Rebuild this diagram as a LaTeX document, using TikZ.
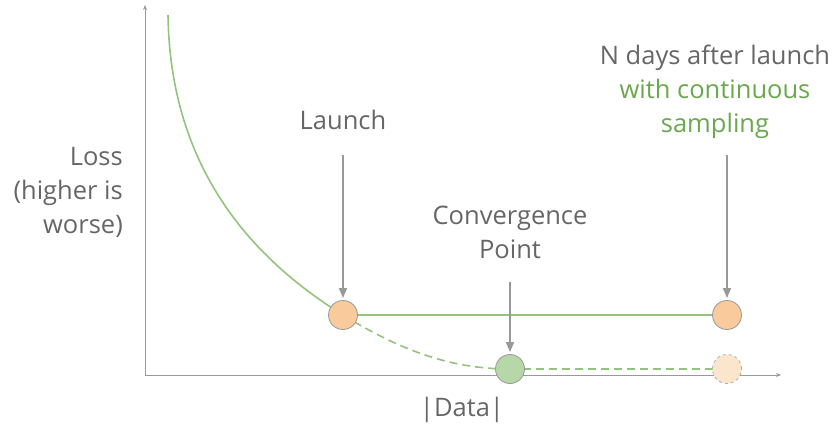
\documentclass[tikz,border=0pt]{standalone}
\usepackage{fontspec}
\setmainfont{Open Sans}
\usetikzlibrary{arrows.meta}
\definecolor{txtgray}{HTML}{666666}
\definecolor{arrgray}{HTML}{999999}
\definecolor{lgreen}{HTML}{93C47D}
\definecolor{tgreen}{HTML}{6AA84F}
\definecolor{orangefill}{HTML}{F9CB9C}
\definecolor{greenfill}{HTML}{B6D7A8}
\definecolor{fadefill}{HTML}{FCE5CD}
\tikzset{
  lbl/.style={text=txtgray, font=\fontsize{25.5}{34}\selectfont, align=center, inner sep=0pt},
  axis/.style={draw=arrgray, line width=0.9pt, -{Stealth[length=5pt,width=4pt]}},
  arr/.style={draw=arrgray, line width=1.5pt, -{Triangle[length=10pt,width=8pt]}, shorten >=2pt},
  curve/.style={draw=lgreen, line width=1.6pt},
  dcurve/.style={draw=lgreen, line width=1.6pt, dash pattern=on 8pt off 5pt},
  dot/.style={circle, minimum size=29pt, inner sep=0pt, draw=arrgray, line width=0.8pt},
  orangedot/.style={dot, fill=orangefill},
  greendot/.style={dot, fill=greenfill},
  fadedot/.style={dot, fill=fadefill, draw=arrgray!80, dashed}
}
\begin{document}
\begin{tikzpicture}[x=1pt,y=-1pt]
\useasboundingbox (0,0) rectangle (838,425);
% coordinates
\coordinate (origin) at (145,375);
\coordinate (ytop) at (145,5);
\coordinate (xend) at (781,375);
\coordinate (start) at (168,15);
\coordinate (pL) at (343,315);
\coordinate (pN) at (727,315);
\coordinate (pC) at (510,369);
\coordinate (pF) at (727,369);
\coordinate (aL) at (343,155);
\coordinate (aC) at (510,282);
\coordinate (aN) at (727,155);
% axes
\draw[axis] (origin) -- (ytop);
\draw[axis] (origin) -- (xend);
% curves
\draw[curve] (start) .. controls (170,155) and (238,250) .. (pL);
\draw[curve] (pL) -- (pN);
\draw[dcurve] (pL) .. controls (400,350) and (450,369) .. (pC);
\draw[dcurve] (pC) -- (pF);
% dots
\node[orangedot] (launch) at (pL) {};
\node[orangedot] (nday) at (pN) {};
\node[greendot] (conv) at (pC) {};
\node[fadedot] (fade) at (pF) {};
% labels
\node[lbl] (launchlbl) at (343,120) {Launch};
\node[lbl] (convlbl) at (510,232) {Convergence\\Point};
\node[lbl] (ndaylbl) at (715,92) {N days after launch\\\textcolor{tgreen}{with continuous}\\\textcolor{tgreen}{sampling}};
\node[lbl, align=right, anchor=east] (losslbl) at (123,192) {Loss\\(higher is\\worse)};
\node[lbl] (datalbl) at (462,410) {|Data|};
% arrows
\draw[arr] (aL) -- (launch);
\draw[arr] (aC) -- (conv);
\draw[arr] (aN) -- (nday);
\end{tikzpicture}
\end{document}
